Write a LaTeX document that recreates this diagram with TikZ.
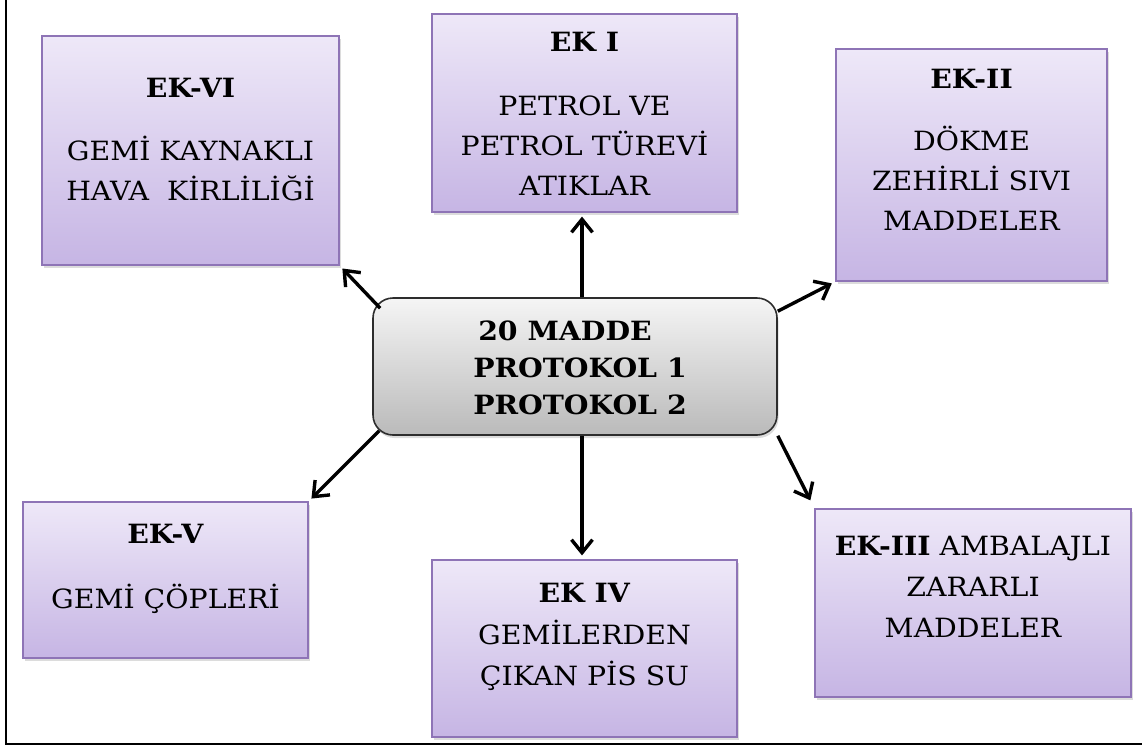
\documentclass[tikz,border=0pt]{standalone}
\usepackage{fontspec}
\setmainfont{DejaVu Serif}[FakeStretch=1.07]
\usetikzlibrary{arrows.meta,shadows,calc}

\definecolor{lavTop}{RGB}{238,232,248}
\definecolor{lavBot}{RGB}{198,181,228}
\definecolor{lavEdge}{RGB}{142,116,182}
\definecolor{greyTop}{RGB}{245,245,245}
\definecolor{greyBot}{RGB}{186,186,186}
\definecolor{greyEdge}{RGB}{45,45,45}

\begin{document}
\begin{tikzpicture}[x=1pt,y=-1pt,
  ekbox/.style={draw=lavEdge, line width=1.2pt, top color=lavTop, bottom color=lavBot,
    inner sep=0pt, drop shadow={shadow xshift=1.5pt, shadow yshift=-3pt, opacity=0.28}},
  hub/.style={draw=greyEdge, line width=1.6pt, rounded corners=20pt, top color=greyTop,
    bottom color=greyBot, inner sep=0pt, minimum width=404pt, minimum height=137pt,
    drop shadow={shadow xshift=1.5pt, shadow yshift=-3pt, opacity=0.28}},
  lbl/.style={anchor=north, inner sep=0pt, align=center, font=\fontsize{26.5}{40}\selectfont},
  link/.style={line width=3.4pt, -{Straight Barb[length=13pt,width=21pt]}, shorten >=4pt},
]
\useasboundingbox (0,0) rectangle (1142,747);

% frame: left and bottom rules
\draw[line width=2pt] (6,0) -- (6,743.5) -- (1142,743.5);

% central box
\node[hub] (mid) at (575,366.5) {};
\node[lbl, align=left, font=\fontsize{26.5}{37}\selectfont\bfseries] (midtxt) at (580,321)
  {\hspace*{5pt}20 MADDE\\PROTOKOL 1\\PROTOKOL 2};

% annex boxes
\node[ekbox, minimum width=297pt, minimum height=229pt] (ek6) at (190.5,150.5) {};
\node[lbl] (ek6txt) at (190.5,78) {\textbf{EK-VI}\\[23pt]GEMİ KAYNAKLI\\HAVA\ \ KİRLİLİĞİ};

\node[ekbox, minimum width=305pt, minimum height=198pt] (ek1) at (584.5,113) {};
\node[lbl] (ek1txt) at (584.5,32) {\textbf{EK I}\\[24pt]PETROL VE\\PETROL TÜREVİ\\ATIKLAR};

\node[ekbox, minimum width=271pt, minimum height=232pt] (ek2) at (971.5,165) {};
\node[lbl] (ek2txt) at (971.5,69) {\textbf{EK-II}\\[22pt]DÖKME\\ZEHİRLİ SIVI\\MADDELER};

\node[ekbox, minimum width=316pt, minimum height=188pt] (ek3) at (973,603) {};
\node[lbl, font=\fontsize{26.5}{41}\selectfont] (ek3txt) at (973,536)
  {\textbf{EK-III} AMBALAJLI\\ZARARLI\\MADDELER};

\node[ekbox, minimum width=285pt, minimum height=156pt] (ek5) at (165.5,580) {};
\node[lbl] (ek5txt) at (165.5,524) {\textbf{EK-V}\\[25pt]GEMİ ÇÖPLERİ};

\node[ekbox, minimum width=305pt, minimum height=177pt] (ek4) at (584.5,648.5) {};
\node[lbl, font=\fontsize{26.5}{41.5}\selectfont] (ek4txt) at (584.5,583)
  {\textbf{EK IV}\\GEMİLERDEN\\ÇIKAN PİS SU};

% connectors from the hub to each annex
\draw[link] ($(mid.north west)+(8,11)$) -- (ek6.south east);
\draw[link] ($(mid.north)+(7,0)$) -- ($(ek1.south)+(-2.5,0)$);
\draw[link] ($(mid.north east)+(0,14)$) -- (ek2.south west);
\draw[link, shorten >=9pt] (mid.south east) -- (ek3.north west);
\draw[link] ($(mid.south)+(7,0)$) -- ($(ek4.north)+(-2.5,0)$);
\draw[link] ($(mid.south west)+(7,-5)$) -- (ek5.north east);
\end{tikzpicture}
\end{document}
